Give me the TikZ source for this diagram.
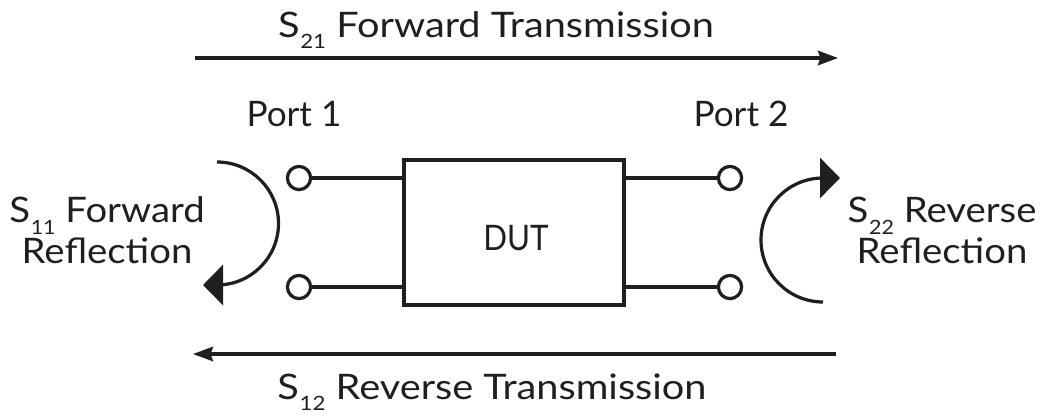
\documentclass[tikz,border=0pt]{standalone}
\usepackage{fontspec}
\setmainfont{Lato}
\newfontfamily\fontT{Lato}[FakeStretch=1.13]
\newfontfamily\fontS{Lato}[FakeStretch=1.09]
\newfontfamily\fontD{Lato}[FakeStretch=0.89]
\usetikzlibrary{arrows.meta}
\newcommand{\Ssub}[1]{S\hspace{0.5pt}\raisebox{-8.5pt}{\fontsize{14}{14}\selectfont #1}}
\begin{document}
\begin{tikzpicture}[x=0.025cm,y=-0.025cm,
  line width=2.3pt,
  ink/.style={draw=black!88},
  lbl/.style={font=\fontsize{25}{28.5}\selectfont, text=black!88, inner sep=0pt, align=center},
  port/.style={circle, draw=black!88, fill=white, minimum size=0.58cm, inner sep=0pt},
  dutbox/.style={draw=black!88, minimum width=5.5cm, minimum height=3.625cm, inner sep=0pt},
  bigtip/.style={-{Triangle[length=0.5cm,width=1cm]}},
  smalltip/.style={-{Stealth[length=0.5cm,width=0.36cm,inset=0.06cm]}}
]
\useasboundingbox (0,0) rectangle (1040,416);
% top / bottom arrows
\coordinate (ta) at (195,58);
\coordinate (tb) at (838,58);
\coordinate (ba) at (836,354);
\coordinate (bb) at (193,354);
\draw[smalltip, ink] (ta) -- (tb);
\draw[smalltip, ink] (ba) -- (bb);
\node[lbl, anchor=base] (t21) at (496,37) {\fontT\Ssub{21} Forward Transmission};
\node[lbl, anchor=base] (t12) at (492,399) {\fontT\Ssub{12} Reverse Transmission};
% ports
\node[lbl, anchor=base] (p1) at (294,126) {Port 1};
\node[lbl, anchor=base] (p2) at (741,126) {Port 2};
% DUT
\node[dutbox] (dut) at (514,232.5) {};
\node[lbl, anchor=base] (dutl) at (516,250) {\fontD DUT};
\node[port] (c1) at (299,178) {};
\node[port] (c2) at (299,287) {};
\node[port] (c3) at (730,178) {};
\node[port] (c4) at (730,287) {};
\draw[ink] (c1) -- (c1 -| dut.west);
\draw[ink] (c2) -- (c2 -| dut.west);
\draw[ink] (c3) -- (c3 -| dut.east);
\draw[ink] (c4) -- (c4 -| dut.east);
% reflection arcs
\coordinate (la) at (217,162);
\coordinate (lt) at (203,285);
\draw[bigtip, ink] (la) arc[start angle=-90, end angle=90, radius=61.5] -- (lt);
\coordinate (ra) at (823,302);
\coordinate (rt) at (840,178);
\draw[bigtip, ink] (ra) arc[start angle=90, end angle=270, radius=62] -- (rt);
% side labels
\node[lbl, anchor=base] (s11) at (107,263) {\fontS\Ssub{11} Forward\\\fontS Reflection};
\node[lbl, anchor=base] (s22) at (942,263) {\fontS\Ssub{22} Reverse\\\fontS Reflection};
\end{tikzpicture}
\end{document}
